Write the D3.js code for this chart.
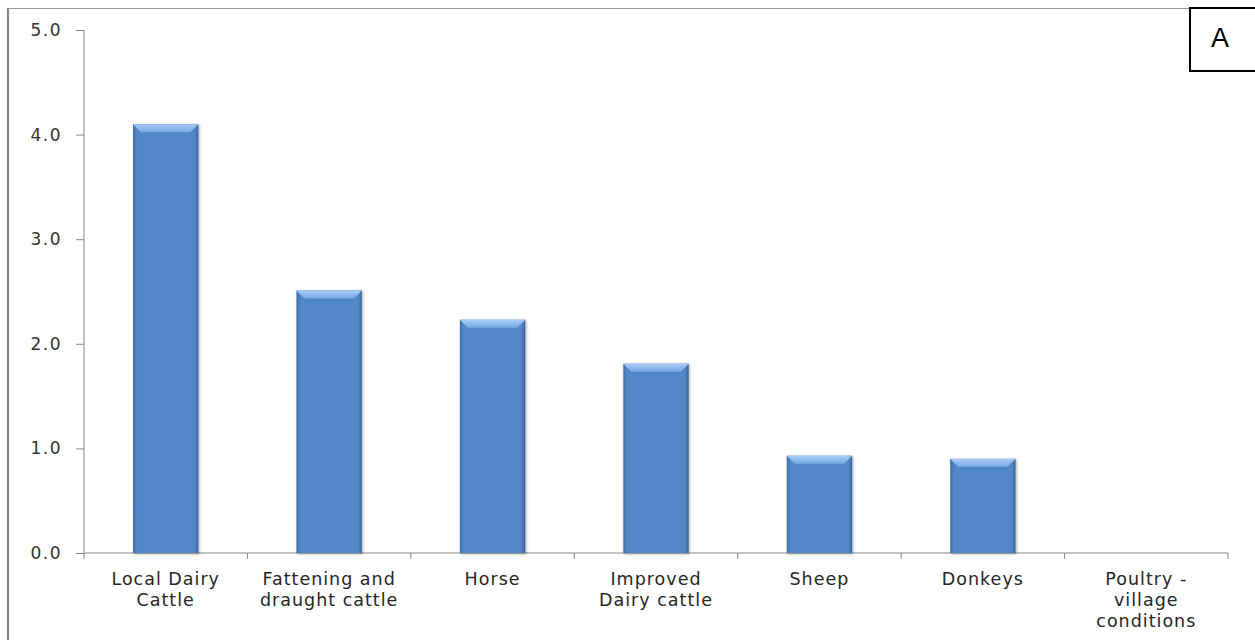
<!DOCTYPE html>
<html>
<head>
<meta charset="utf-8">
<script src="https://cdn.jsdelivr.net/npm/d3@7"></script>
<style>
  body { margin: 0; background: #fff; }
  svg { display: block; }
</style>
</head>
<body>
<div id="chart"></div>
<script>
const categories = ["Local Dairy Cattle", "Fattening and draught cattle", "Horse", "Improved Dairy cattle", "Sheep", "Donkeys", "Poultry - village conditions"];
const labelLines = [["Local Dairy", "Cattle"], ["Fattening and", "draught cattle"], ["Horse"], ["Improved", "Dairy cattle"], ["Sheep"], ["Donkeys"], ["Poultry -", "village", "conditions"]];
const values = [4.1, 2.51, 2.23, 1.81, 0.93, 0.9, 0];
const yTicks = [0, 1, 2, 3, 4, 5];

const width = 1255, height = 640;
const margin = { top: 30, right: 27, bottom: 87, left: 84 };

const svg = d3.select("#chart").append("svg")
    .attr("width", width)
    .attr("height", height);

const defs = svg.append("defs");
const sideGrad = defs.append("linearGradient").attr("id", "barSide");
sideGrad.append("stop").attr("offset", "0%").attr("stop-color", "#3f6ea8");
sideGrad.append("stop").attr("offset", "6%").attr("stop-color", "#5388c8");
sideGrad.append("stop").attr("offset", "94%").attr("stop-color", "#5388c8");
sideGrad.append("stop").attr("offset", "100%").attr("stop-color", "#3a659c");

const topGrad = defs.append("linearGradient").attr("id", "barTop")
    .attr("x1", 0).attr("y1", 0).attr("x2", 0).attr("y2", 1);
topGrad.append("stop").attr("offset", "0%").attr("stop-color", "#a9cdf5");
topGrad.append("stop").attr("offset", "100%").attr("stop-color", "#78a8e3");

const shadow = defs.append("filter").attr("id", "shadow")
    .attr("x", "-20%").attr("y", "-20%").attr("width", "140%").attr("height", "140%");
shadow.append("feGaussianBlur").attr("in", "SourceAlpha").attr("stdDeviation", 1.5);
shadow.append("feOffset").attr("dx", 1).attr("dy", 1).attr("result", "blur");
shadow.append("feComponentTransfer").append("feFuncA").attr("type", "linear").attr("slope", 0.35);
const merge = shadow.append("feMerge");
merge.append("feMergeNode");
merge.append("feMergeNode").attr("in", "SourceGraphic");

// outer frame
svg.append("line").attr("x1", 8).attr("x2", 1190).attr("y1", 8.5).attr("y2", 8.5)
    .attr("stroke", "#999").attr("stroke-width", 1.2);
svg.append("line").attr("x1", 8).attr("x2", 8).attr("y1", 8).attr("y2", height)
    .attr("stroke", "#888").attr("stroke-width", 2.2);

const x = d3.scaleBand()
    .domain(categories)
    .range([margin.left, width - margin.right])
    .paddingInner(0.6)
    .paddingOuter(0.3);

const y = d3.scaleLinear()
    .domain([0, 5])
    .range([height - margin.bottom, margin.top]);

const fontFamily = "'DejaVu Sans', Verdana, sans-serif";

// y axis
const yAxis = svg.append("g")
    .attr("transform", `translate(${margin.left},0)`)
    .call(d3.axisLeft(y).tickValues(yTicks).tickFormat(d3.format(".1f")).tickSize(8).tickPadding(14));
yAxis.select(".domain").attr("stroke", "#888").attr("d", `M0,${y(5)}V${y(0)}`);
yAxis.selectAll(".tick line").attr("stroke", "#888");
yAxis.selectAll(".tick text")
    .attr("fill", "#333")
    .style("font-family", fontFamily)
    .style("font-size", "17px")
    .style("letter-spacing", "1.5px");

// x axis
const xBase = y(0);
const xLine = svg.append("g");
xLine.append("line")
    .attr("x1", margin.left).attr("x2", width - margin.right)
    .attr("y1", xBase).attr("y2", xBase)
    .attr("stroke", "#888");
const bounds = d3.range(categories.length + 1).map(i => margin.left + i * (width - margin.left - margin.right) / categories.length);
xLine.selectAll(".xtick")
    .data(bounds)
    .enter()
    .append("line")
    .attr("class", "xtick")
    .attr("x1", d => d).attr("x2", d => d)
    .attr("y1", xBase).attr("y2", xBase + 6)
    .attr("stroke", "#888");

// bars
const bars = svg.selectAll(".bar")
    .data(categories.map((c, i) => ({ c, v: values[i] })).filter(d => d.v > 0))
    .enter()
    .append("g")
    .attr("class", "bar")
    .attr("filter", "url(#shadow)");

bars.append("rect")
    .attr("x", d => x(d.c))
    .attr("y", d => y(d.v))
    .attr("width", x.bandwidth())
    .attr("height", d => y(0) - y(d.v))
    .attr("fill", "url(#barSide)");

bars.append("path")
    .attr("d", d => {
        const x0 = x(d.c), x1 = x0 + x.bandwidth(), t = y(d.v), b = 8;
        return `M${x0},${t}L${x1},${t}L${x1 - b},${t + b}L${x0 + b},${t + b}Z`;
    })
    .attr("fill", "url(#barTop)");

// category labels
const labels = svg.selectAll(".cat")
    .data(categories)
    .enter()
    .append("text")
    .attr("class", "cat")
    .attr("x", d => x(d) + x.bandwidth() / 2)
    .attr("y", xBase + 32)
    .attr("text-anchor", "middle")
    .attr("fill", "#262626")
    .style("font-family", fontFamily)
    .style("font-size", "17.5px")
    .style("letter-spacing", "1px");

labels.selectAll("tspan")
    .data((d, i) => labelLines[i])
    .enter()
    .append("tspan")
    .attr("x", function() { return this.parentNode.getAttribute("x"); })
    .attr("dy", (d, i) => i === 0 ? 0 : 21)
    .text(d => d);

// panel marker
svg.append("rect")
    .attr("x", 1190).attr("y", 8)
    .attr("width", 80).attr("height", 63)
    .attr("fill", "#fff")
    .attr("stroke", "#000")
    .attr("stroke-width", 2);
svg.append("text")
    .attr("x", 1220).attr("y", 47)
    .attr("text-anchor", "middle")
    .attr("fill", "#000")
    .style("font-family", "'Liberation Sans', Arial, sans-serif")
    .style("font-size", "27px")
    .text("A");
</script>
</body>
</html>
